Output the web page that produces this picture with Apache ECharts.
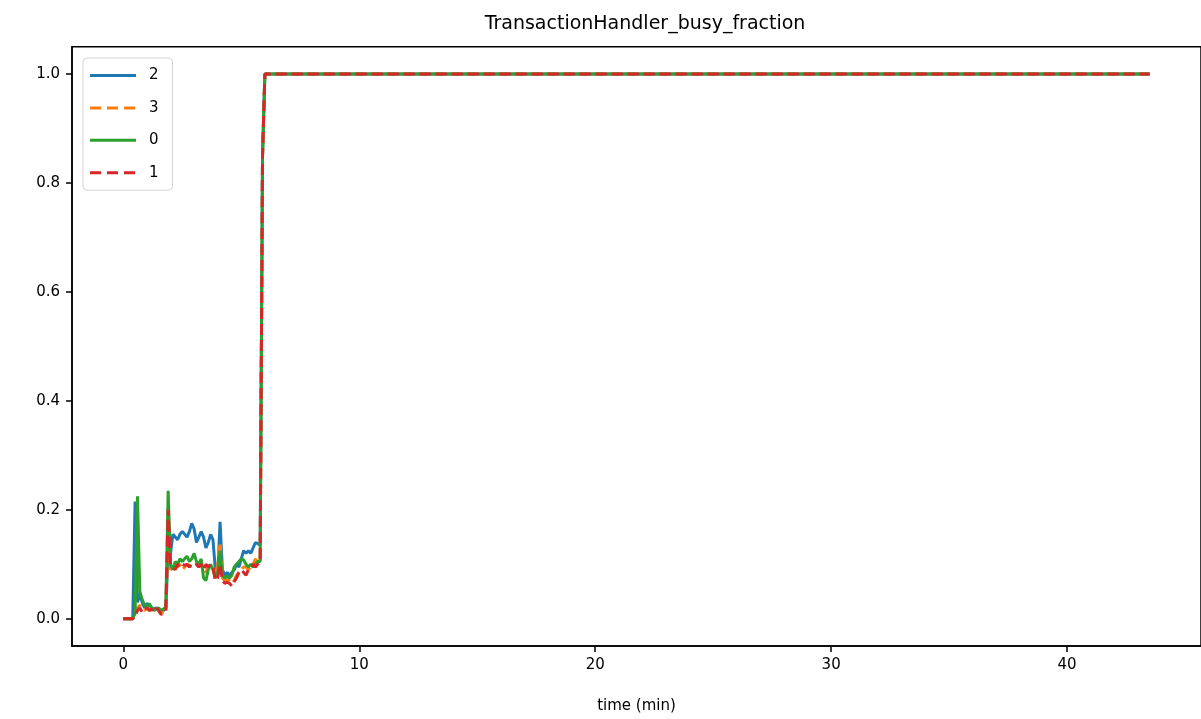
<!DOCTYPE html>
<html>
<head>
<meta charset="utf-8">
<script src="https://cdn.jsdelivr.net/npm/echarts@6/dist/echarts.min.js"></script>
<style>
  html, body { margin: 0; padding: 0; background: #fff; }
  #chart { width: 1201px; height: 719px; }
</style>
</head>
<body>
<div id="chart"></div>
<script>
// time in minutes, shared by all series
var times = [0, 0.1, 0.2, 0.3, 0.4, 0.5, 0.6, 0.7, 0.8, 0.9,
  1.0, 1.1, 1.2, 1.3, 1.4, 1.5, 1.6, 1.7, 1.8, 1.9,
  2.0, 2.1, 2.2, 2.3, 2.4, 2.5, 2.6, 2.7, 2.8, 2.9,
  3.0, 3.1, 3.2, 3.3, 3.4, 3.5, 3.6, 3.7, 3.8, 3.9,
  4.0, 4.1, 4.2, 4.3, 4.4, 4.5, 4.6, 4.7, 4.8, 4.9,
  5.0, 5.1, 5.2, 5.3, 5.4, 5.5, 5.6, 5.7, 5.8, 5.9,
  6.0, 43.5];

var busy2 = [0, 0, 0, 0, 0, 0.215, 0.03, 0.045, 0.03, 0.02,
  0.028, 0.025, 0.02, 0.018, 0.02, 0.015, 0.012, 0.015, 0.02, 0.12,
  0.12, 0.155, 0.15, 0.145, 0.155, 0.16, 0.155, 0.15, 0.16, 0.175,
  0.165, 0.14, 0.15, 0.16, 0.15, 0.13, 0.14, 0.155, 0.145, 0.09,
  0.08, 0.178, 0.09, 0.08, 0.085, 0.08, 0.085, 0.09, 0.1, 0.095,
  0.11, 0.125, 0.12, 0.125, 0.12, 0.13, 0.14, 0.138, 0.135, 0.85,
  1, 1];

var busy3 = [0, 0, 0, 0, 0, 0.005, 0.02, 0.025, 0.02, 0.015,
  0.02, 0.015, 0.018, 0.015, 0.02, 0.015, 0.01, 0.012, 0.01, 0.15,
  0.09, 0.095, 0.1, 0.095, 0.1, 0.09, 0.095, 0.1, 0.098, 0.095,
  0.1, 0.1, 0.095, 0.1, 0.09, 0.085, 0.095, 0.1, 0.095, 0.075,
  0.1, 0.14, 0.075, 0.07, 0.072, 0.07, 0.065, 0.07, 0.08, 0.085,
  0.09, 0.095, 0.095, 0.09, 0.095, 0.1, 0.11, 0.1, 0.105, 0.85,
  1, 1];

var busy0 = [0, 0, 0, 0, 0, 0.01, 0.225, 0.05, 0.035, 0.025,
  0.02, 0.028, 0.02, 0.015, 0.018, 0.02, 0.015, 0.018, 0.02, 0.235,
  0.1, 0.09, 0.105, 0.1, 0.11, 0.105, 0.11, 0.115, 0.105, 0.11,
  0.12, 0.105, 0.1, 0.11, 0.075, 0.07, 0.09, 0.1, 0.09, 0.075,
  0.085, 0.125, 0.08, 0.075, 0.078, 0.075, 0.08, 0.095, 0.1, 0.105,
  0.11, 0.108, 0.1, 0.095, 0.1, 0.095, 0.1, 0.105, 0.105, 0.85,
  1, 1];

var busy1 = [0, 0, 0, 0, 0, 0.005, 0.015, 0.02, 0.012, 0.018,
  0.02, 0.015, 0.018, 0.012, 0.02, 0.015, 0.008, 0.01, 0.015, 0.2,
  0.1, 0.095, 0.09, 0.1, 0.095, 0.1, 0.098, 0.1, 0.095, 0.1,
  0.098, 0.1, 0.095, 0.1, 0.09, 0.1, 0.095, 0.1, 0.095, 0.07,
  0.075, 0.1, 0.07, 0.065, 0.067, 0.065, 0.06, 0.068, 0.075, 0.085,
  0.09, 0.085, 0.08, 0.09, 0.095, 0.1, 0.095, 0.1, 0.105, 0.85,
  1, 1];

var xTicks = [0, 10, 20, 30, 40];
var yTicks = [0, 0.2, 0.4, 0.6, 0.8, 1.0];

// legend samples: plain bar for solid, three bars for dashed
var solidIcon = 'path://M0,0H46V3H0Z';
var dashIcon = 'path://M0,0H11V3H0Z M17,0H28V3H17Z M34,0H45V3H34Z M45.9,0H46V3H45.9Z';

function pairs(vals) {
  var out = [];
  for (var i = 0; i < times.length; i++) {
    out.push([times[i], vals[i]]);
  }
  return out;
}

function lineSeries(name, vals, color, dashed) {
  return {
    name: name,
    type: 'line',
    data: pairs(vals),
    showSymbol: false,
    symbol: 'none',
    animation: false,
    lineStyle: {
      color: color,
      width: 3,
      type: dashed ? [11, 5] : 'solid'
    },
    itemStyle: { color: color }
  };
}

var myChart = echarts.init(document.getElementById('chart'));
var fontFamily = 'DejaVu Sans';

var option = {
  backgroundColor: '#fff',
  animation: false,
  textStyle: { fontFamily: fontFamily },
  title: {
    text: 'TransactionHandler_busy_fraction',
    left: 640,
    textAlign: 'center',
    top: 10,
    textStyle: { fontFamily: fontFamily, fontSize: 19, fontWeight: 'normal', color: '#000' }
  },
  legend: {
    orient: 'vertical',
    left: 83,
    top: 58,
    padding: [10, 14, 10, 7],
    itemWidth: 46,
    itemHeight: 3,
    itemGap: 17.4,
    borderColor: '#d5d5d5',
    borderWidth: 1,
    borderRadius: 4,
    backgroundColor: 'rgba(255,255,255,0.8)',
    textStyle: { fontFamily: fontFamily, fontSize: 15, color: '#000', padding: [0, 0, 0, 8] },
    data: [
      { name: '2', icon: solidIcon },
      { name: '3', icon: dashIcon },
      { name: '0', icon: solidIcon },
      { name: '1', icon: dashIcon }
    ]
  },
  grid: {
    left: 72,
    top: 46.75,
    width: 1136.4,
    height: 599.5,
    containLabel: false,
    show: true,
    borderColor: '#000',
    borderWidth: 1.5
  },
  xAxis: {
    type: 'value',
    min: -2.175,
    max: 45.675,
    name: 'time (min)',
    nameLocation: 'middle',
    nameGap: 53,
    nameTextStyle: { fontFamily: fontFamily, fontSize: 15, color: '#000' },
    axisLine: { show: true, onZero: false, lineStyle: { color: '#000', width: 1.5 } },
    axisTick: { show: true, length: 6, lineStyle: { color: '#000', width: 1.5 }, customValues: xTicks },
    axisLabel: { fontFamily: fontFamily, fontSize: 15, color: '#000', margin: 12, customValues: xTicks },
    splitLine: { show: false }
  },
  yAxis: {
    type: 'value',
    min: -0.05,
    max: 1.05,
    axisLine: { show: true, onZero: false, lineStyle: { color: '#000', width: 1.5 } },
    axisTick: { show: true, length: 6, lineStyle: { color: '#000', width: 1.5 }, customValues: yTicks },
    axisLabel: {
      fontFamily: fontFamily, fontSize: 15, color: '#000', margin: 12,
      customValues: yTicks,
      formatter: function (v) { return v.toFixed(1); }
    },
    splitLine: { show: false }
  },
  series: [
    lineSeries('2', busy2, '#1f77b4', false),
    lineSeries('3', busy3, '#ff7f0e', true),
    lineSeries('0', busy0, '#2ca02c', false),
    lineSeries('1', busy1, '#d62728', true)
  ]
};

myChart.setOption(option);
</script>
</body>
</html>
